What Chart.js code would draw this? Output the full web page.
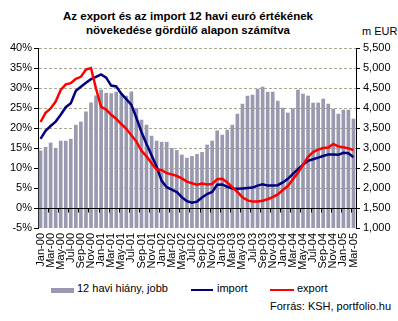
<!DOCTYPE html>
<html>
<head>
<meta charset="utf-8">
<script src="https://cdn.jsdelivr.net/npm/chart.js@4.4.1/dist/chart.umd.min.js"></script>
<style>
  html, body { margin: 0; padding: 0; background: #fff; }
  #wrap { position: relative; width: 398px; height: 321px; overflow: hidden;
          font-family: "Liberation Sans", Arial, sans-serif; color: #000; }
  #chartBox { position: absolute; left: 0; top: 0; width: 398px; height: 280px; }
  #title { position: absolute; left: 0; top: 9px; width: 376px; text-align: center;
           font-weight: bold; font-size: 11.5px; line-height: 14px; }
  #unit { position: absolute; left: 362px; top: 25px; font-size: 11px; line-height: 13px; white-space: nowrap; }
  .lg { position: absolute; font-size: 11px; line-height: 13px; white-space: nowrap; }
  .sw { position: absolute; }
</style>
</head>
<body>
<div id="wrap">
  <div id="title">Az export és az import 12 havi euró értékének<br>növekedése gördülő alapon számítva</div>
  <div id="unit">m EUR</div>
  <div id="chartBox"><canvas id="tradeChart"></canvas></div>

  <!-- legend -->
  <div class="sw" style="left:51px;top:288px;width:23px;height:5px;background:#9999b0;"></div>
  <div class="lg" style="left:77px;top:282px;">12 havi hiány, jobb</div>
  <div class="sw" style="left:191px;top:289px;width:22px;height:2px;background:#000080;"></div>
  <div class="lg" style="left:217px;top:282px;">import</div>
  <div class="sw" style="left:270px;top:289px;width:24px;height:2px;background:#ff0000;"></div>
  <div class="lg" style="left:297px;top:282px;">export</div>
  <div class="lg" style="left:270px;top:300px;">Forrás: KSH, portfolio.hu</div>
</div>

<script>
// hónapok (Jan-00 ... Mar-05)
const months = [
  'Jan-00','Feb-00','Mar-00','Apr-00','May-00','Jun-00','Jul-00','Aug-00','Sep-00','Oct-00','Nov-00','Dec-00',
  'Jan-01','Feb-01','Mar-01','Apr-01','May-01','Jun-01','Jul-01','Aug-01','Sep-01','Oct-01','Nov-01','Dec-01',
  'Jan-02','Feb-02','Mar-02','Apr-02','May-02','Jun-02','Jul-02','Aug-02','Sep-02','Oct-02','Nov-02','Dec-02',
  'Jan-03','Feb-03','Mar-03','Apr-03','May-03','Jun-03','Jul-03','Aug-03','Sep-03','Oct-03','Nov-03','Dec-03',
  'Jan-04','Feb-04','Mar-04','Apr-04','May-04','Jun-04','Jul-04','Aug-04','Sep-04','Oct-04','Nov-04','Dec-04',
  'Jan-05','Feb-05','Mar-05'
];

// 12 havi hiány, m EUR (jobb tengely)
const deficit = [
  2930, 3020, 3125, 2995, 3175, 3175, 3225, 3570, 3650, 3905,
  4130, 4305, 4450, 4370, 4360, 4395, 4330, 4300, 4405, 3990,
  3700, 3575, 3300, 3175, 3145, 3145, 2990, 2940, 2825, 2745,
  2790, 2840, 2890, 3075, 3175, 3430, 3325, 3450, 3575, 3850,
  4100, 4300, 4325, 4475, 4525, 4400, 4400, 4175, 4000, 3875,
  3985, 4450, 4350, 4300, 4125, 4125, 4225, 4100, 3975, 3850,
  3950, 3950, 3725
];

// import növekedés, % (bal tengely)
const importGrowth = [
  17.3, 19.3, 20.5, 21.6, 23.3, 25.2, 26.2, 29.3, 30.3, 31.3,
  32.2, 32.8, 33.4, 32.6, 30.6, 30.4, 28.6, 27.2, 25.8, 22.5,
  19.0, 16.0, 13.2, 10.3, 6.8, 5.2, 4.6, 4.0, 2.7, 1.7,
  1.3, 1.6, 2.6, 3.5, 4.0, 5.8, 5.9, 5.3, 4.9, 4.8,
  4.9, 5.0, 5.1, 5.6, 5.9, 5.6, 5.6, 5.7, 6.4, 7.3,
  8.5, 9.7, 10.8, 11.8, 12.2, 12.6, 13.0, 13.4, 13.4, 13.3,
  13.8, 13.7, 12.7
];

// export növekedés, %
const exportGrowth = [
  21.5, 23.8, 24.9, 26.6, 29.5, 30.9, 31.2, 32.3, 32.8, 34.6,
  35.0, 29.8, 25.3, 24.6, 23.3, 22.3, 21.0, 19.8, 18.2, 16.6,
  14.3, 12.9, 11.2, 9.6, 9.5, 8.7, 8.4, 8.0, 7.4, 6.6,
  6.2, 5.8, 6.1, 5.9, 6.0, 7.2, 7.3, 6.4, 5.2, 4.0,
  2.7, 1.9, 1.6, 1.6, 1.8, 2.2, 2.7, 3.4, 4.5, 5.5,
  7.2, 8.8, 10.8, 12.8, 14.0, 14.6, 15.0, 15.1, 16.0, 15.4,
  15.2, 14.9, 14.5
];

const FONT = '"Liberation Sans", Arial, sans-serif';
Chart.defaults.font.family = FONT;
Chart.defaults.font.size = 11;
Chart.defaults.color = '#000';

// vízszintes tengely a 0%-nál, kéthavonta osztásjelekkel
const zeroAxis = {
  id: 'zeroAxis',
  afterDatasetsDraw(chart) {
    const { ctx, chartArea, scales } = chart;
    const y0 = Math.round(scales.y.getPixelForValue(0)) + 0.5;
    ctx.save();
    ctx.strokeStyle = '#000';
    ctx.lineWidth = 1;
    ctx.beginPath();
    ctx.moveTo(chartArea.left, y0);
    ctx.lineTo(chartArea.right, y0);
    for (let i = 2; i < months.length; i += 2) {
      const x = Math.round((scales.x.getPixelForValue(i - 1) + scales.x.getPixelForValue(i)) / 2) + 0.5;
      ctx.moveTo(x, y0);
      ctx.lineTo(x, y0 + 4);
    }
    ctx.stroke();
    ctx.restore();
  }
};

new Chart(document.getElementById('tradeChart'), {
  type: 'bar',
  data: {
    labels: months,
    datasets: [
      {
        label: 'export',
        type: 'line',
        data: exportGrowth,
        yAxisID: 'y',
        borderColor: '#ff0000',
        borderWidth: 2.5,
        pointRadius: 0,
        tension: 0,
        order: 0
      },
      {
        label: 'import',
        type: 'line',
        data: importGrowth,
        yAxisID: 'y',
        borderColor: '#000080',
        borderWidth: 2.5,
        pointRadius: 0,
        tension: 0,
        order: 1
      },
      {
        label: '12 havi hiány, jobb',
        data: deficit,
        yAxisID: 'y1',
        backgroundColor: '#9999b0',
        barThickness: 3,
        order: 2
      }
    ]
  },
  plugins: [zeroAxis],
  options: {
    responsive: true,
    maintainAspectRatio: false,
    animation: false,
    devicePixelRatio: 1,
    layout: { padding: { top: 48, left: 0, right: 0, bottom: 0 } },
    plugins: {
      legend: { display: false },
      title: { display: false },
      tooltip: { enabled: false }
    },
    scales: {
      x: {
        grid: { display: false, drawTicks: false },
        border: { display: false },
        ticks: {
          autoSkip: false,
          minRotation: 90,
          maxRotation: 90,
          padding: 5,
          font: { size: 11 },
          callback: (v, i) => (i % 2 === 0 ? months[i] : '')
        },
        afterFit: s => { s.height = 52; }
      },
      y: {
        position: 'left',
        min: -5,
        max: 40,
        ticks: { stepSize: 5, padding: 2, callback: v => v + '%' },
        grid: {
          color: c => (c.tick && (c.tick.value === -5 || c.tick.value === 0)) ? 'rgba(0,0,0,0)' : '#a8a890',
          tickColor: '#000',
          tickLength: 4,
          tickBorderDash: []
        },
        border: { display: true, color: '#000', width: 1, dash: [3, 2] },
        afterFit: s => { s.width = 38; }
      },
      y1: {
        position: 'right',
        min: 1000,
        max: 5500,
        ticks: { stepSize: 500, padding: 3, callback: v => v.toLocaleString('en-US') },
        grid: { drawOnChartArea: false, tickColor: '#000', tickLength: 4 },
        border: { display: true, color: '#000', width: 1 },
        afterFit: s => { s.width = 42; }
      }
    }
  }
});
</script>
</body>
</html>
